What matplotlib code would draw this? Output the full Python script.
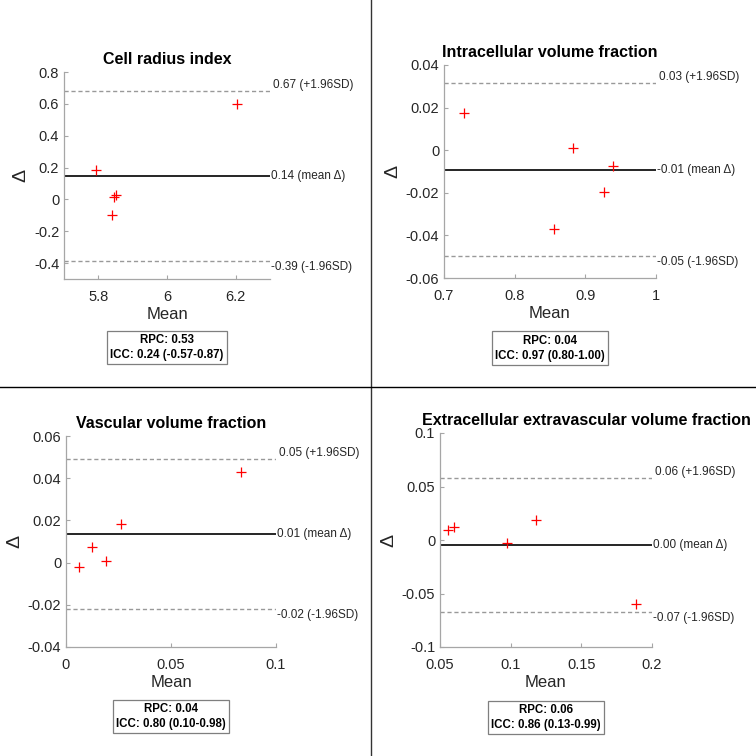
import numpy as np
import matplotlib
matplotlib.use('Agg')
import matplotlib.pyplot as plt

plt.rcParams['font.family'] = ['Liberation Sans', 'DejaVu Sans']

# panel titles
titles = ['Cell radius index', 'Intracellular volume fraction',
          'Vascular volume fraction', 'Extracellular extravascular volume fraction']

# mean of the two measurements (x) and difference (y) per subject
cri_mean = [6.205, 5.793, 5.845, 5.851, 5.840]
cri_diff = [0.600, 0.182, 0.016, 0.025, -0.097]
ivf_mean = [0.728, 0.882, 0.939, 0.927, 0.855]
ivf_diff = [0.0176, 0.0011, -0.0076, -0.0196, -0.0371]
vvf_mean = [0.0062, 0.0125, 0.0192, 0.0263, 0.0835]
vvf_diff = [-0.0019, 0.0074, 0.0009, 0.0183, 0.0428]
eev_mean = [0.0554, 0.0597, 0.0977, 0.118, 0.189]
eev_diff = [0.0094, 0.0119, -0.0025, 0.0187, -0.060]

# bias and limits of agreement
bias = [0.146, -0.0091, 0.0136, -0.0044]
upper = [0.678, 0.0314, 0.0491, 0.0584]
lower = [-0.387, -0.0498, -0.0220, -0.0669]
bias_lbl = ['0.14', '-0.01', '0.01', '0.00']
upper_lbl = ['0.67', '0.03', '0.05', '0.06']
lower_lbl = ['-0.39', '-0.05', '-0.02', '-0.07']

rpc = ['0.53', '0.04', '0.04', '0.06']
icc = ['0.24 (-0.57-0.87)', '0.97 (0.80-1.00)', '0.80 (0.10-0.98)', '0.86 (0.13-0.99)']

xlims = [(5.7, 6.3), (0.7, 1.0), (0.0, 0.1), (0.05, 0.2)]
ylims = [(-0.5, 0.8), (-0.06, 0.04), (-0.04, 0.06), (-0.1, 0.1)]
xticks = [[5.8, 6.0, 6.2], [0.7, 0.8, 0.9, 1.0], [0, 0.05, 0.1], [0.05, 0.1, 0.15, 0.2]]
xticklbl = [['5.8', '6', '6.2'], ['0.7', '0.8', '0.9', '1'], ['0', '0.05', '0.1'],
            ['0.05', '0.1', '0.15', '0.2']]
yticks = [[-0.4, -0.2, 0, 0.2, 0.4, 0.6, 0.8],
          [-0.06, -0.04, -0.02, 0, 0.02, 0.04],
          [-0.04, -0.02, 0, 0.02, 0.04, 0.06],
          [-0.1, -0.05, 0, 0.05, 0.1]]
yticklbl = [['-0.4', '-0.2', '0', '0.2', '0.4', '0.6', '0.8'],
            ['-0.06', '-0.04', '-0.02', '0', '0.02', '0.04'],
            ['-0.04', '-0.02', '0', '0.02', '0.04', '0.06'],
            ['-0.1', '-0.05', '0', '0.05', '0.1']]

means = [cri_mean, ivf_mean, vvf_mean, eev_mean]
diffs = [cri_diff, ivf_diff, vvf_diff, eev_diff]

W = 756.0
# axes boxes in pixels: left, right, top, bottom
boxes = [(64, 270, 72, 279), (444, 656, 65, 278), (66, 276, 436, 647), (440, 652, 433, 647)]
# title centre, as a fraction of the axes width (last one sits off-centre)
title_x = [0.5, 0.5, 0.5, 0.693]

fig = plt.figure(figsize=(7.56, 7.56), dpi=100)
fig.patch.set_facecolor('white')

axcol = '#262626'
spcol = '#a6a6a6'

for i in range(4):
    l, r, t, b = boxes[i]
    ax = fig.add_axes([l / W, 1 - b / W, (r - l) / W, (b - t) / W])
    ax.plot(means[i], diffs[i], '+', color='#ff0000', markersize=6.5, markeredgewidth=0.9, zorder=5)
    x0, x1 = xlims[i]
    ax.plot([x0, x1], [bias[i], bias[i]], '-', color='black', lw=1.2)
    ax.plot([x0, x1], [upper[i], upper[i]], '--', color='#999999', lw=1.0, dashes=(3, 2))
    ax.plot([x0, x1], [lower[i], lower[i]], '--', color='#999999', lw=1.0, dashes=(3, 2))
    ax.set_xlim(xlims[i])
    ax.set_ylim(ylims[i])
    ax.set_xticks(xticks[i])
    ax.set_xticklabels(xticklbl[i])
    ax.set_yticks(yticks[i])
    ax.set_yticklabels(yticklbl[i])
    for s in ['top', 'right']:
        ax.spines[s].set_visible(False)
    for s in ['left', 'bottom']:
        ax.spines[s].set_color(spcol)
        ax.spines[s].set_linewidth(0.9)
    ax.tick_params(direction='in', length=3, width=0.8, color=spcol, labelsize=10.5,
                   labelcolor=axcol)
    ax.tick_params(axis='x', pad=8)
    ax.tick_params(axis='y', pad=3.5)
    ax.set_xlabel('Mean', fontsize=12, color=axcol, labelpad=2)
    ax.set_ylabel('Δ', fontsize=14, color=axcol, labelpad=3)
    ax.set_title(titles[i], fontsize=11.5, fontweight='bold', pad=6, x=title_x[i])

    ax.annotate(upper_lbl[i] + ' (+1.96SD)', (x1, upper[i]), xytext=(2, 0),
                textcoords='offset points', fontsize=8.5, color=axcol, ha='left', va='bottom')
    ax.annotate(bias_lbl[i] + ' (mean Δ)', (x1, bias[i]), xytext=(1, 0),
                textcoords='offset points', fontsize=8.5, color=axcol, ha='left', va='center')
    ax.annotate(lower_lbl[i] + ' (-1.96SD)', (x1, lower[i]), xytext=(1, 0),
                textcoords='offset points', fontsize=8.5, color=axcol, ha='left', va='top')

    ax.text(0.5, -0.33, 'RPC: ' + rpc[i] + '\nICC: ' + icc[i], transform=ax.transAxes,
            ha='center', va='center', fontsize=8.3, fontweight='bold', color='black',
            linespacing=1.3,
            bbox=dict(boxstyle='square,pad=0.3', facecolor='white', edgecolor='#7f7f7f', lw=0.9))

# panel dividers
fig.add_artist(plt.Line2D([370.5 / W, 370.5 / W], [0, 1], color='#333333', lw=1.0))
fig.add_artist(plt.Line2D([0, 1], [1 - 387.3 / W, 1 - 387.3 / W], color='black', lw=1.0))

fig.savefig('out.png', dpi=100, facecolor='white')
